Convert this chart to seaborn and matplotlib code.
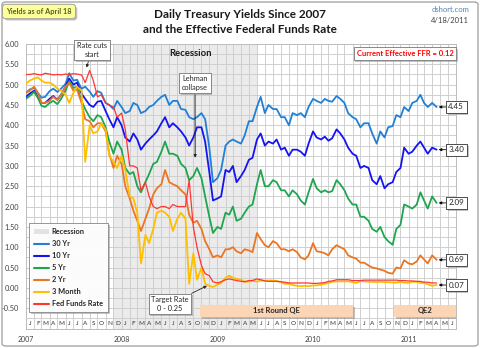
import numpy as np
import pandas as pd
import matplotlib
matplotlib.use("Agg")
import matplotlib.pyplot as plt
import matplotlib.dates as mdates
import matplotlib.patheffects as pe
from matplotlib.patches import Patch, Rectangle, FancyBboxPatch
from matplotlib.lines import Line2D
import seaborn as sns

# ---------------- data (semi-monthly + last print) ----------------
dates = list(pd.date_range("2007-01-01", "2011-04-01", freq="SMS")) + [pd.Timestamp("2011-04-18")]

yr30 = [4.80, 4.88, 4.92, 4.80, 4.68, 4.70, 4.84, 4.90, 4.82, 4.90, 5.02, 5.28,
        5.10, 5.12, 4.90, 4.95, 4.83, 4.70, 4.84, 4.80, 4.55, 4.50, 4.40, 4.60,
        4.45, 4.30, 4.35, 4.55, 4.50, 4.30, 4.35, 4.45, 4.50, 4.60, 4.70, 4.75,
        4.50, 4.60, 4.60, 4.40, 4.38, 4.20, 4.15, 4.20, 4.30, 4.15, 3.45, 2.60,
        2.70, 2.90, 3.50, 3.60, 3.65, 3.60, 3.55, 3.75, 4.10, 4.10, 4.45, 4.70,
        4.30, 4.50, 4.40, 4.40, 4.20, 4.20, 4.00, 4.30, 4.25, 4.30, 4.20, 4.45,
        4.65, 4.60, 4.55, 4.65, 4.60, 4.58, 4.72, 4.65, 4.55, 4.30, 4.20, 4.15,
        3.95, 4.05, 4.05, 3.80, 3.55, 3.85, 3.70, 3.95, 3.98, 4.25, 4.20, 4.45,
        4.35, 4.55, 4.60, 4.75, 4.55, 4.45, 4.55, 4.45]
yr10 = [4.70, 4.78, 4.85, 4.70, 4.55, 4.55, 4.65, 4.72, 4.63, 4.75, 4.95, 5.15,
        5.00, 5.05, 4.78, 4.65, 4.50, 4.45, 4.58, 4.60, 4.35, 4.15, 3.95, 4.20,
        4.00, 3.70, 3.60, 3.80, 3.65, 3.40, 3.55, 3.65, 3.75, 3.85, 4.05, 4.20,
        3.95, 4.05, 3.95, 3.85, 3.70, 3.50, 3.70, 3.95, 3.95, 3.60, 2.85, 2.15,
        2.20, 2.25, 2.90, 2.85, 3.00, 2.60, 2.75, 2.90, 3.15, 3.20, 3.65, 3.80,
        3.50, 3.60, 3.55, 3.65, 3.40, 3.45, 3.25, 3.40, 3.40, 3.35, 3.25, 3.55,
        3.85, 3.70, 3.65, 3.72, 3.62, 3.68, 3.90, 3.80, 3.65, 3.45, 3.30, 3.25,
        2.95, 3.00, 2.95, 2.65, 2.55, 2.75, 2.45, 2.55, 2.60, 2.85, 2.95, 3.45,
        3.30, 3.35, 3.50, 3.60, 3.45, 3.30, 3.45, 3.40]
yr5 = [4.65, 4.72, 4.82, 4.68, 4.48, 4.45, 4.55, 4.60, 4.52, 4.65, 4.85, 5.08,
       4.92, 4.95, 4.60, 4.40, 4.20, 4.10, 4.25, 4.20, 3.95, 3.60, 3.30, 3.60,
       3.40, 2.95, 2.80, 2.85, 2.50, 2.35, 2.60, 2.80, 3.05, 3.10, 3.35, 3.60,
       3.30, 3.30, 3.25, 3.05, 2.95, 2.65, 2.75, 2.95, 2.70, 2.25, 1.75, 1.35,
       1.50, 1.45, 1.85, 1.80, 2.00, 1.65, 1.70, 1.85, 2.00, 2.05, 2.55, 2.90,
       2.50, 2.50, 2.65, 2.60, 2.40, 2.40, 2.25, 2.40, 2.30, 2.15, 2.05, 2.35,
       2.68, 2.45, 2.35, 2.40, 2.35, 2.38, 2.65, 2.55, 2.40, 2.20, 2.05, 2.05,
       1.75, 1.75, 1.65, 1.45, 1.38, 1.50, 1.25, 1.15, 1.06, 1.45, 1.55, 2.05,
       2.00, 1.95, 2.05, 2.35, 2.15, 1.95, 2.25, 2.09]
yr2 = [4.80, 4.85, 4.95, 4.80, 4.55, 4.55, 4.60, 4.70, 4.62, 4.75, 4.95, 5.05,
       4.85, 4.88, 4.55, 4.15, 4.10, 3.95, 4.05, 4.05, 3.85, 3.30, 2.95, 3.25,
       3.05, 2.50, 2.20, 1.90, 1.65, 1.40, 1.70, 1.95, 2.30, 2.45, 2.55, 2.90,
       2.60, 2.55, 2.50, 2.40, 2.30, 1.80, 1.60, 1.65, 1.45, 1.15, 0.95, 0.75,
       0.80, 0.75, 0.95, 0.95, 1.00, 0.90, 0.85, 0.95, 0.92, 0.88, 1.35, 1.20,
       1.05, 1.00, 1.15, 1.10, 0.95, 0.95, 0.90, 0.95, 0.88, 0.75, 0.70, 0.80,
       1.10, 0.90, 0.88, 0.85, 0.80, 0.95, 1.05, 1.00, 0.95, 0.80, 0.75, 0.72,
       0.62, 0.62, 0.55, 0.50, 0.48, 0.45, 0.42, 0.37, 0.35, 0.50, 0.48, 0.68,
       0.60, 0.58, 0.65, 0.80, 0.70, 0.60, 0.80, 0.69]
mo3 = [5.02, 5.10, 5.15, 5.18, 5.10, 5.05, 5.05, 5.00, 4.90, 4.85, 4.75, 4.55,
       4.80, 4.95, 4.85, 3.10, 4.00, 3.80, 3.85, 4.05, 3.90, 3.25, 3.10, 2.95,
       3.25, 2.90, 2.25, 2.20, 1.85, 0.60, 1.30, 1.10, 1.45, 1.85, 1.90, 1.85,
       1.75, 1.40, 1.70, 1.85, 1.70, 0.10, 0.85, 0.20, 0.50, 0.10, 0.05, 0.02,
       0.08, 0.12, 0.25, 0.30, 0.25, 0.22, 0.20, 0.15, 0.15, 0.18, 0.15, 0.18,
       0.18, 0.18, 0.18, 0.17, 0.14, 0.10, 0.10, 0.07, 0.05, 0.04, 0.05, 0.04,
       0.06, 0.06, 0.08, 0.10, 0.12, 0.15, 0.16, 0.16, 0.16, 0.16, 0.14, 0.12,
       0.17, 0.16, 0.15, 0.15, 0.14, 0.15, 0.14, 0.14, 0.13, 0.13, 0.15, 0.13,
       0.12, 0.15, 0.15, 0.12, 0.12, 0.09, 0.05, 0.07]
ffr = [5.25, 5.25, 5.27, 5.25, 5.24, 5.28, 5.26, 5.24, 5.25, 5.24, 5.26, 5.25,
       5.27, 5.26, 5.24, 5.05, 5.35, 5.10, 4.70, 4.75, 4.55, 4.50, 4.45, 4.20,
       4.30, 3.90, 3.00, 3.00, 2.95, 2.40, 2.60, 2.25, 2.00, 1.95, 2.00, 2.00,
       1.95, 2.05, 2.00, 2.00, 2.00, 2.65, 1.50, 1.00, 0.55, 0.35, 0.30, 0.15,
       0.12, 0.15, 0.20, 0.22, 0.20, 0.18, 0.16, 0.15, 0.18, 0.18, 0.22, 0.20,
       0.17, 0.16, 0.16, 0.16, 0.15, 0.14, 0.12, 0.12, 0.12, 0.12, 0.12, 0.12,
       0.11, 0.11, 0.12, 0.13, 0.16, 0.17, 0.20, 0.20, 0.20, 0.20, 0.18, 0.18,
       0.18, 0.19, 0.19, 0.19, 0.19, 0.19, 0.19, 0.19, 0.19, 0.19, 0.18, 0.18,
       0.17, 0.17, 0.16, 0.16, 0.14, 0.14, 0.12, 0.12]

series_names = ["30 Yr", "10 Yr", "5 Yr", "2 Yr", "3 Month", "Fed Funds Rate"]
series_values = [yr30, yr10, yr5, yr2, mo3, ffr]
callout_labels = ["4.45", "3.40", "2.09", "0.69", None, None]
callout_values = [4.45, 3.40, 2.09, 0.69, None, None]
low_callout_label = "0.07"
low_callout_value = 0.07
current_ffr_text = "Current Effective FFR = 0.12"

month_letters = list("JFMAMJJASOND")
year_labels = ["2007", "2008", "2009", "2010", "2011"]
ytick_values = [-0.5, 0.0, 0.5, 1.0, 1.5, 2.0, 2.5, 3.0, 3.5, 4.0, 4.5, 5.0, 5.5, 6.0]

recession = ("2007-12-01", "2009-06-01")
qe_periods = [("1st Round QE", "2008-10-27", "2010-06-03"),
              ("QE2", "2010-11-06", "2011-07-01")]

colors = {"30 Yr": "#2180d6", "10 Yr": "#1414f2", "5 Yr": "#1ea64e",
          "2 Yr": "#ea7624", "3 Month": "#ffbe00", "Fed Funds Rate": "#ff3535"}
widths = {"30 Yr": 1.3, "10 Yr": 1.3, "5 Yr": 1.3, "2 Yr": 1.3, "3 Month": 1.3, "Fed Funds Rate": 0.9}

df = pd.DataFrame([{"date": d, "value": v, "series": n}
                   for n, vals in zip(series_names, series_values)
                   for d, v in zip(dates, vals)])

# ---------------- figure ----------------
sns.set_style("white")
plt.rcParams["font.family"] = ["Lato", "DejaVu Sans"]
W, H = 480, 348
fig = plt.figure(figsize=(4.8, 3.48), dpi=100)
fig.patch.set_facecolor("white")

def fx(x):
    return x / W

def fy(y):
    return 1 - y / H

L, R, T, B = 26, 456, 44, 328.5
ax = fig.add_axes([fx(L), fy(B), (R - L) / W, (B - T) / H])
ax.set_facecolor("white")
ax.set_axisbelow(True)

ax.axvspan(pd.Timestamp(recession[0]), pd.Timestamp(recession[1]), color="#ebebeb", zorder=0, lw=0)

for n in series_names:
    sns.lineplot(data=df[df["series"] == n], x="date", y="value", color=colors[n],
                 linewidth=widths[n], ax=ax, legend=False, zorder=3)

x0, x1 = pd.Timestamp("2007-01-01"), pd.Timestamp("2011-07-01")
ax.set_xlim(x0, x1)
ax.set_ylim(-1.0, 6.0)

# x ticks: month boundaries (grid + year labels), month letters inside
month_starts = pd.date_range("2007-01-01", "2011-07-01", freq="MS")
major_labels = []
for d in month_starts:
    if d.month == 1 and d.year - 2007 < len(year_labels):
        major_labels.append(year_labels[d.year - 2007])
    else:
        major_labels.append("")
ax.set_xticks(month_starts)
ax.set_xticklabels(major_labels)
mid_months = pd.date_range("2007-01-01", "2011-06-01", freq="MS") + pd.Timedelta(days=15)
ax.set_xticks(mid_months, minor=True)
ax.set_xticklabels([month_letters[d.month - 1] for d in mid_months], minor=True)
ax.tick_params(axis="x", which="major", length=0, pad=5.5, labelsize=5, labelcolor="#404040")
ax.tick_params(axis="x", which="minor", length=0, pad=-5.6, labelsize=4.6, labelcolor="#303030")

ax.set_yticks(ytick_values)
ax.set_yticklabels([f"{v:.2f}" for v in ytick_values])
ax.set_yticks(np.arange(-1.0, 6.01, 0.25), minor=True)
ax.tick_params(axis="y", which="both", length=0, pad=5, labelsize=5.3, labelcolor="#404040")

ax.grid(True, axis="x", which="major", color="#cfcfcf", lw=0.7)
ax.grid(True, axis="y", which="both", color="#cfcfcf", lw=0.7)
ax.set_xlabel("")
ax.set_ylabel("")
for s in ax.spines.values():
    s.set_color("#bdbdbd")
    s.set_linewidth(0.7)

shadow = [pe.withSimplePatchShadow(offset=(1.3, -1.3), shadow_rgbFace="#999999", alpha=0.6), pe.Normal()]

# QE boxes
for label, a, b in qe_periods:
    da, db = mdates.date2num(pd.Timestamp(a)), mdates.date2num(pd.Timestamp(b))
    rect = Rectangle((da, -0.715), db - da, 0.30, facecolor="#fcd5b4", edgecolor="none", zorder=4)
    rect.set_path_effects(shadow)
    ax.add_patch(rect)
    ax.text((da + db) / 2, -0.565, label, ha="center", va="center", fontsize=5.5,
            fontweight="bold", color="#262626", zorder=5)

# callouts on the right
last_date = dates[-1]
for lab, val in list(zip(callout_labels, callout_values)) + [(low_callout_label, low_callout_value)]:
    if lab is None:
        continue
    t = ax.annotate(lab, xy=(last_date, val), xycoords="data", xytext=(8.5, 0),
                    textcoords="offset points", ha="left", va="center", fontsize=5.8,
                    color="#262626", annotation_clip=False, zorder=6,
                    bbox=dict(boxstyle="square,pad=0.3", fc="white", ec="#404040", lw=0.6),
                    arrowprops=dict(arrowstyle="-|>", color="black", lw=0.6,
                                    mutation_scale=4, shrinkA=0, shrinkB=1.5))
    t.get_bbox_patch().set_path_effects(shadow)

# annotation boxes
def boxed(x, y, s, **kw):
    t = fig.text(fx(x), fy(y), s, ha="center", va="center", zorder=10, **kw)
    return t

t = ax.annotate("Rate cuts\nstart", xy=(pd.Timestamp("2007-08-20"), 5.42), xycoords="data",
                xytext=(fx(92), fy(50)), textcoords="figure fraction", ha="center", va="center",
                fontsize=5.3, color="#262626", linespacing=1.25, zorder=10,
                bbox=dict(boxstyle="square,pad=0.35", fc="white", ec="#7f7f7f", lw=0.6),
                arrowprops=dict(arrowstyle="-|>", color="#262626", lw=0.6, mutation_scale=4,
                                shrinkA=0, shrinkB=0))
t.get_bbox_patch().set_path_effects(shadow)

t = ax.annotate("Lehman\ncollapse", xy=(pd.Timestamp("2008-10-08"), 3.2), xycoords="data",
                xytext=(fx(195), fy(83)), textcoords="figure fraction", ha="center", va="center",
                fontsize=5.3, color="#262626", linespacing=1.25, zorder=10,
                bbox=dict(boxstyle="square,pad=0.35", fc="white", ec="#7f7f7f", lw=0.6),
                arrowprops=dict(arrowstyle="-|>", color="#262626", lw=0.7, mutation_scale=4,
                                shrinkA=0, shrinkB=0))
t.get_bbox_patch().set_path_effects(shadow)

t = ax.annotate("Target Rate\n0 - 0.25", xy=(pd.Timestamp("2008-11-22"), 0.05), xycoords="data",
                xytext=(fx(170), fy(304)), textcoords="figure fraction", ha="center", va="center",
                fontsize=5.3, color="#262626", linespacing=1.25, zorder=10,
                bbox=dict(boxstyle="square,pad=0.35", fc="white", ec="#7f7f7f", lw=0.6),
                arrowprops=dict(arrowstyle="-|>", color="#262626", lw=0.6, mutation_scale=4,
                                shrinkA=0, shrinkB=0))
t.get_bbox_patch().set_path_effects(shadow)

t = boxed(405, 53.5, current_ffr_text, fontsize=5.5, fontweight="bold", color="#ff0000",
          bbox=dict(boxstyle="square,pad=0.4", fc="white", ec="#7f7f7f", lw=0.6))
t.get_bbox_patch().set_path_effects(shadow)

fig.text(fx(190), fy(53), "Recession", ha="center", va="center", fontsize=6.8, fontweight="bold", color="#1a1a1a")

# legend
handles = [Patch(facecolor="#e3e3e3", edgecolor="none", label="Recession")]
handles += [Line2D([0], [0], color=colors[n], lw=1.5, label=n) for n in series_names]
leg = fig.legend(handles=handles, loc="upper left", bbox_to_anchor=(fx(29), fy(223)),
                 bbox_transform=fig.transFigure, frameon=True, fancybox=False,
                 prop={"size": 5.3, "weight": "bold"}, labelspacing=0.68, handlelength=2.0,
                 handletextpad=0.4, borderpad=0.7, borderaxespad=0)
leg.get_frame().set_edgecolor("#7f7f7f")
leg.get_frame().set_linewidth(0.6)
leg.get_frame().set_path_effects(shadow)
leg.set_zorder(10)
for txt in leg.get_texts():
    txt.set_color("#262626")

# titles & corner texts
fig.text(fx(240), fy(14), "Daily Treasury Yields Since 2007", ha="center", va="center",
         fontsize=8.5, fontweight="bold", color="#1a1a1a")
fig.text(fx(240), fy(29.5), "and the Effective Federal Funds Rate", ha="center", va="center",
         fontsize=8.5, fontweight="bold", color="#1a1a1a")
fig.text(fx(469), fy(10), "dshort.com", ha="right", va="center", fontsize=5.5, color="#4f81bd")
fig.text(fx(469), fy(20.5), "4/18/2011", ha="right", va="center", fontsize=5.5, color="#404040")
t = fig.text(fx(39), fy(11.5), "Yields as of April 18", ha="center", va="center", fontsize=5.3,
             fontweight="bold", color="#4f6228",
             bbox=dict(boxstyle="round,pad=0.5,rounding_size=0.4", fc="#ffff99", ec="#a0a0a0", lw=0.6))
t.get_bbox_patch().set_path_effects(shadow)

# outer border
border = FancyBboxPatch((fx(2), fy(346)), fx(476), (344) / H, boxstyle="round,pad=0,rounding_size=0.008",
                        transform=fig.transFigure, fill=False, edgecolor="#a6a6a6", lw=1.0)
fig.patches.append(border)

fig.savefig("out.png", dpi=100)
